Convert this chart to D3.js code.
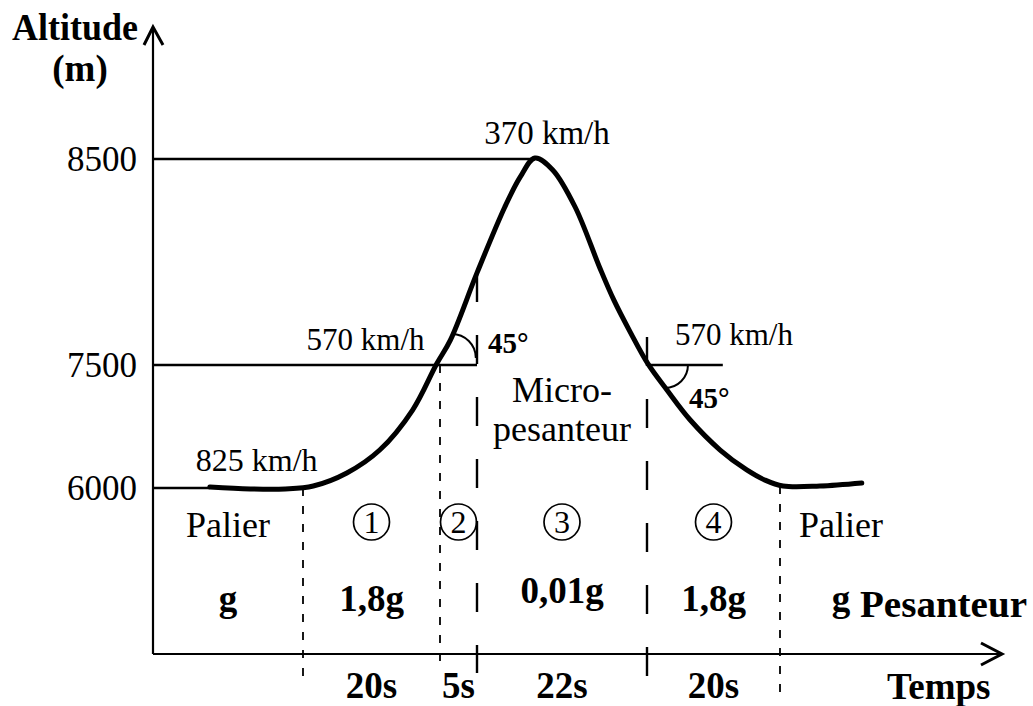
<!DOCTYPE html>
<html>
<head>
<meta charset="utf-8">
<script src="https://cdn.jsdelivr.net/npm/d3@7"></script>
<style>
  body { margin: 0; background: #fff; }
  svg { display: block; font-family: "Liberation Serif", "Times New Roman", serif; }
</style>
</head>
<body>
<svg id="chart" width="1033" height="706"></svg>
<script>
// altitude ticks (m)
const altitudeTicks = [6000, 7500, 8500];
// phase boundaries, seconds from start of pull-up
const phaseBounds = [0, 20, 25, 47, 67];
const phaseNames = ['Palier', '1', '2', '3', '4', 'Palier'];
const gravityLabels = ['g', '1,8g', '', '0,01g', '1,8g', 'g'];
const durationLabels = ['', '20s', '5s', '22s', '20s', ''];

// flight profile (time s, altitude m)
const flightTime = [-13.6, -7.7, -2.6, 1.5, 6.4, 11.2, 16.0, 19.5, 21.4, 25, 28.6, 30.6, 32.5,
  34.8, 37.7, 40.9, 42.7, 44.9, 47.15, 50.0, 53.5, 58.0, 62.0, 64.7, 67.45, 73.0, 79.3];
const flightAltitude = [6012, 5988, 5988, 6024, 6183, 6463, 6951, 7505, 7621, 7947, 8267, 8413, 8505,
  8447, 8267, 7971, 7816, 7655, 7505, 7195, 6829, 6463, 6220, 6098, 6024, 6024, 6061];

// speeds noted along the profile
const speedLabels = ['825 km/h', '570 km/h', '370 km/h', '570 km/h'];
const speedTime = [-13.6, 19.5, 32.5, 47];
const speedAltitude = [6000, 7500, 8500, 7500];

const svg = d3.select('#chart');
const x0 = 153, axisY = 654;

// schematic scales: each phase has its own width on the drawing
const x = d3.scaleLinear().domain(phaseBounds).range([303, 440, 477, 647, 780]);
const y = d3.scaleLinear().domain(altitudeTicks).range([488, 365, 159]);

const profile = flightTime.map((t, i) => ({ t, alt: flightAltitude[i] }));
const peak = profile[d3.maxIndex(profile, d => d.alt)];

// reference lines
const refLines = [
  { alt: 8500, t1: peak.t },
  { alt: 7500, t1: phaseBounds[2] },
  { alt: 6000, t1: flightTime[0] }
];
svg.selectAll('.ref').data(refLines).join('line')
  .attr('x1', x0).attr('x2', d => x(d.t1))
  .attr('y1', d => y(d.alt)).attr('y2', d => y(d.alt))
  .attr('stroke', '#000').attr('stroke-width', 2.6);
// short horizontal on the way down
svg.append('line')
  .attr('x1', x(47)).attr('x2', x(58.4))
  .attr('y1', y(7500)).attr('y2', y(7500))
  .attr('stroke', '#000').attr('stroke-width', 2.6);

// phase separators
const shortDash = [
  { t: 0, y1: y(6000), y2: 680 },
  { t: 20, y1: y(7500), y2: 667 },
  { t: 67, y1: y(6000) - 2, y2: 695 }
];
svg.selectAll('.sd').data(shortDash).join('line')
  .attr('x1', d => x(d.t)).attr('x2', d => x(d.t))
  .attr('y1', d => d.y1).attr('y2', d => d.y2)
  .attr('stroke', '#000').attr('stroke-width', 1.8).attr('stroke-dasharray', '8,10');
const longDash = [
  { t: 25, y1: 273, y2: 673 },
  { t: 47, y1: 337, y2: 677 }
];
svg.selectAll('.ld').data(longDash).join('line')
  .attr('x1', d => x(d.t)).attr('x2', d => x(d.t))
  .attr('y1', d => d.y1).attr('y2', d => d.y2)
  .attr('stroke', '#000').attr('stroke-width', 2.4).attr('stroke-dasharray', '29,33');

// axes with open arrow heads
svg.append('line').attr('x1', x0).attr('x2', x0).attr('y1', axisY).attr('y2', 28)
  .attr('stroke', '#000').attr('stroke-width', 2.2);
svg.append('line').attr('x1', x0).attr('x2', 1000).attr('y1', axisY).attr('y2', axisY)
  .attr('stroke', '#000').attr('stroke-width', 2.2);
svg.append('path').attr('d', `M${x0 - 9},45 L${x0},27 L${x0 + 10},45`)
  .attr('fill', 'none').attr('stroke', '#000').attr('stroke-width', 3);
svg.append('path').attr('d', `M981,${axisY - 11} L1002,${axisY} L981,${axisY + 11}`)
  .attr('fill', 'none').attr('stroke', '#000').attr('stroke-width', 3);

// altitude tick labels
const yAxis = svg.append('g').attr('transform', `translate(${x0},0)`)
  .call(d3.axisLeft(y).tickValues(altitudeTicks).tickSize(0).tickPadding(16).tickFormat(d3.format('d')));
yAxis.select('.domain').remove();
yAxis.selectAll('text').attr('font-size', 35).attr('font-family', '"Liberation Serif", serif')
  .attr('fill', '#000').attr('dy', '0.33em');

// flight profile
const line = d3.line().x(d => x(d.t)).y(d => y(d.alt)).curve(d3.curveCatmullRom.alpha(0.5));
svg.append('path').datum(profile).attr('d', line)
  .attr('fill', 'none').attr('stroke', '#000').attr('stroke-width', 5).attr('stroke-linecap', 'round');

// 45 degree arcs
const arc = d3.arc();
svg.append('path')
  .attr('transform', `translate(${x(21.6)},${y(7500) - 7})`)
  .attr('d', arc({ innerRadius: 24, outerRadius: 24, startAngle: 0, endAngle: Math.PI / 2 }))
  .attr('fill', 'none').attr('stroke', '#000').attr('stroke-width', 2);
svg.append('path')
  .attr('transform', `translate(${x(49.7)},${y(7500)})`)
  .attr('d', arc({ innerRadius: 23, outerRadius: 23, startAngle: Math.PI / 2, endAngle: Math.PI }))
  .attr('fill', 'none').attr('stroke', '#000').attr('stroke-width', 2);
svg.append('text').attr('x', 488).attr('y', 353).attr('font-size', 29).attr('font-weight', 'bold').text('45°');
svg.append('text').attr('x', 689).attr('y', 408).attr('font-size', 29).attr('font-weight', 'bold').text('45°');

// speed labels
const speedPos = [
  { dx: -14, dy: -17, anchor: 'start', size: 32 },
  { dx: -12, dy: -15, anchor: 'end', size: 31 },
  { dx: 12, dy: -15, anchor: 'middle', size: 33 },
  { dx: 28, dy: -20, anchor: 'start', size: 31 }
];
svg.selectAll('.speed').data(speedLabels).join('text')
  .attr('x', (d, i) => x(speedTime[i]) + speedPos[i].dx)
  .attr('y', (d, i) => y(speedAltitude[i]) + speedPos[i].dy)
  .attr('text-anchor', (d, i) => speedPos[i].anchor)
  .attr('font-size', (d, i) => speedPos[i].size).text(d => d);

// micro-gravity label
svg.append('text').attr('x', 562).attr('y', 402).attr('text-anchor', 'middle').attr('font-size', 36).text('Micro-');
svg.append('text').attr('x', 562).attr('y', 441).attr('text-anchor', 'middle').attr('font-size', 36).text('pesanteur');

// phase rows
const edges = [x0].concat(phaseBounds.map(x), [902]);
const centers = d3.range(phaseNames.length).map(i => (edges[i] + edges[i + 1]) / 2);

const phaseG = svg.selectAll('.phase').data(phaseNames).join('g')
  .attr('transform', (d, i) => `translate(${centers[i]},522)`);
phaseG.filter(d => d !== 'Palier').append('circle')
  .attr('r', 18).attr('fill', 'none').attr('stroke', '#000').attr('stroke-width', 1.7);
phaseG.append('text').attr('text-anchor', 'middle')
  .attr('y', d => d === 'Palier' ? 15 : 11)
  .attr('font-size', d => d === 'Palier' ? 36 : 32)
  .text(d => d);

svg.selectAll('.grav').data(gravityLabels).join('text')
  .attr('x', (d, i) => centers[i]).attr('y', d => d === '0,01g' ? 603 : 611)
  .attr('text-anchor', 'middle').attr('font-size', 37).attr('font-weight', 'bold')
  .text(d => d);

svg.selectAll('.dur').data(durationLabels).join('text')
  .attr('x', (d, i) => centers[i]).attr('y', 698)
  .attr('text-anchor', 'middle').attr('font-size', 37).attr('font-weight', 'bold')
  .text(d => d);

// axis titles
svg.append('text').attr('x', 12).attr('y', 40).attr('font-size', 37).attr('font-weight', 'bold')
  .attr('textLength', 126).attr('lengthAdjust', 'spacingAndGlyphs').text('Altitude');
svg.append('text').attr('x', 80).attr('y', 81).attr('text-anchor', 'middle').attr('font-size', 37).attr('font-weight', 'bold').text('(m)');
svg.append('text').attr('x', 860).attr('y', 617).attr('font-size', 37).attr('font-weight', 'bold')
  .attr('textLength', 167).attr('lengthAdjust', 'spacingAndGlyphs').text('Pesanteur');
svg.append('text').attr('x', 887).attr('y', 699).attr('font-size', 37).attr('font-weight', 'bold').text('Temps');
</script>
</body>
</html>
